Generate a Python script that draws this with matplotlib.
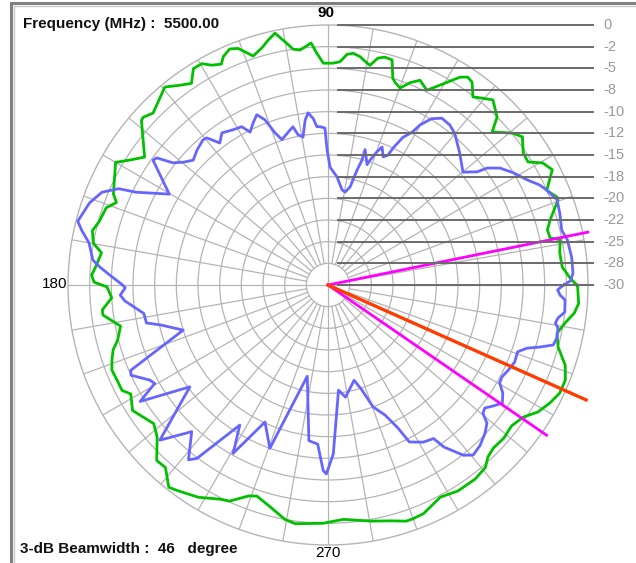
import numpy as np
import matplotlib
matplotlib.use("Agg")
import matplotlib.pyplot as plt
from matplotlib.patches import Rectangle

plt.rcParams['font.family'] = ['Liberation Sans', 'DejaVu Sans']

# measured pattern, angle in degrees / level in dB
green_deg = [0.0, 1.5, 4.4, 8.0, 11.0, 12.0, 14.1, 16.3, 20.3, 21.0, 23.4, 27.2, 29.6, 31.6,
             34.1, 37.3, 39.4, 43.0, 44.8, 48.3, 50.3, 52.4, 54.6, 56.1, 57.6, 59.6, 60.8,
             63.1, 65.8, 67.9, 69.9, 71.6, 72.6, 74.1, 76.0, 77.6, 79.2, 80.0, 82.0, 83.8,
             85.3, 86.9, 88.7, 91.2, 92.8, 94.0, 95.1, 96.8, 98.4, 99.7, 101.9, 103.7,
             105.6, 108.1, 109.3, 110.8, 112.6, 114.6, 115.8, 117.9, 119.7, 121.9, 124.1,
             126.2, 129.5, 135.5, 137.8, 138.6, 141.9, 145.1, 147.7, 150.0, 157.0, 158.7,
             160.8, 164.5, 167.0, 169.9, 171.9, 175.6, 177.6, 179.3, 180.5, 183.4, 186.3,
             187.6, 191.2, 194.7, 196.8, 199.2, 201.5, 204.3, 207.1, 208.9, 212.7, 218.5,
             221.7, 225.7, 228.3, 231.8, 233.8, 238.6, 243.1, 245.5, 249.4, 251.4, 255.6,
             259.6, 262.2, 268.8, 273.8, 280.4, 285.2, 288.3, 289.9, 292.6, 297.9, 302.3,
             307.2, 310.8, 312.9, 315.4, 319.0, 322.5, 325.9, 328.8, 332.0, 335.0, 338.2,
             341.3, 344.9, 348.1, 350.9, 353.5, 355.8, 359.6]
green_db = [-1.3, -2.0, -2.9, -3.0, -2.7, -3.8, -3.9, -3.3, -1.7, -1.7, -2.5, -0.9, -1.5, -2.9,
            -2.8, -1.8, -2.4, -4.1, -2.5, -1.4, -2.0, -2.6, -1.3, -1.1, -1.6, -2.9, -3.6,
            -4.8, -4.1, -4.8, -5.8, -5.4, -5.0, -3.0, -2.9, -3.2, -4.2, -4.0, -3.4, -3.1,
            -3.3, -4.2, -4.4, -4.4, -3.2, -2.0, -2.3, -2.7, -2.5, -1.7, -0.3, -0.9,
            -1.6, -2.2, -1.6, -0.8, -0.5, -1.0, -1.7, -1.3, -0.6, -0.6, -1.9,
            -1.4, -0.4, -1.7, -1.2, -1.3, -2.9, -4.2, -3.0, -1.7, -3.1, -3.8,
            -2.9, -2.6, -2.1, -2.5, -3.6, -3.1, -2.7, -3.0, -4.5, -5.0, -3.8,
            -3.8, -5.6, -4.9, -4.1, -3.6, -3.2, -3.3, -3.3, -4.0, -3.2, -4.3,
            -3.6, -1.7, -1.8, -0.3, -0.6, -1.3, -2.3, -2.6, -4.0, -4.3, -3.5,
            -2.5, -2.2, -2.5, -2.9, -2.3, -1.8, -1.3, -1.3, -1.4, -2.3, -1.9,
            -1.9, -2.2, -2.9, -3.2, -3.1, -3.3, -2.8, -1.7, -1.0, -0.5, -0.5,
            -1.1, -2.5, -3.0, -2.3, -1.4, -1.0, -1.2]

blue_deg = [0.0, 1.0, 2.8, 6.5, 10.7, 13.2, 17.2, 20.4, 23.5, 25.3, 27.8, 31.2, 34.2, 36.3,
            37.2, 39.9, 45.0, 50.1, 52.7, 55.7, 58.1, 60.1, 61.2, 63.1, 64.6, 65.2, 66.7,
            68.6, 69.8, 71.4, 72.0, 74.7, 74.8, 75.8, 77.3, 79.6, 81.6, 85.2, 89.0, 90.4,
            91.1, 92.9, 94.0, 95.1, 96.6, 97.9, 99.6, 101.3, 102.5, 104.7, 107.6, 109.2,
            110.9, 112.7, 114.8, 117.0, 118.6, 121.5, 124.9, 127.3, 129.5, 130.8, 134.1,
            137.2, 139.7, 141.8, 143.4, 144.5, 150.2, 154.2, 155.3, 157.7, 161.0, 165.7,
            167.5, 170.0, 173.9, 175.5, 177.4, 180.0, 180.8, 182.8, 184.5, 188.8, 191.8,
            193.5, 197.3, 203.4, 204.6, 208.1, 209.6, 211.8, 216.4, 222.7, 227.1, 231.4,
            232.9, 237.8, 240.6, 245.3, 250.4, 257.2, 263.0, 266.3, 268.5, 269.5, 271.8,
            275.7, 278.9, 285.3, 287.7, 290.3, 293.7, 296.0, 297.4, 301.2, 304.5, 305.6,
            308.5, 310.5, 311.4, 313.5, 316.7, 319.0, 320.4, 321.9, 323.7, 325.9, 328.3,
            330.3, 332.1, 334.7, 337.6, 340.6, 342.4, 343.7, 345.1, 347.0, 349.4, 350.5,
            351.8, 353.5, 356.4, 357.5, 358.8, 360.0]
blue_db = [-2.8, -2.0, -1.7, -1.7, -1.9, -2.3, -2.0, -1.8, -2.5, -3.0, -4.0, -5.0, -6.0, -7.2,
           -8.4, -9.7, -8.5, -7.2, -6.8, -6.7, -7.4, -8.7, -9.9, -10.9, -12.5, -13.5, -13.9,
           -12.9, -13.6, -14.8, -15.4, -13.8, -15.1, -16.3, -18.4, -19.1, -18.9, -17.5, -16.4, -14.4,
           -11.9, -11.7, -11.7, -10.7, -10.0, -10.8, -12.7, -12.3, -11.3, -11.8, -12.4, -11.4,
           -9.6, -8.7, -9.4, -10.2, -9.2, -9.0, -8.6, -9.4, -8.0, -7.9, -8.3,
           -8.8, -8.1, -7.2, -5.4, -5.2, -8.9, -5.4, -3.4, -1.8, -0.9, -0.2,
           -0.9, -2.0, -2.7, -3.6, -4.8, -6.3, -6.6, -6.0, -6.5, -8.5, -8.6,
           -10.2, -12.5, -5.2, -5.0, -6.7, -7.0, -4.5, -10.2, -3.6, -6.9, -4.2,
           -4.9, -10.9, -7.7, -12.6, -10.0, -19.2, -11.9, -11.6, -8.6, -8.2, -10.5,
           -17.8, -16.9, -18.6, -17.4, -15.0, -13.6, -11.7, -9.6, -8.8, -8.5, -7.0,
           -4.9, -4.2, -4.3, -4.5, -5.1, -5.7, -6.8, -7.0, -6.4, -5.7, -6.3,
           -7.2, -7.3, -7.0, -6.7, -6.8, -5.9, -4.5, -3.1, -2.9, -3.0, -3.4,
           -3.2, -2.5, -2.6, -3.2, -3.5, -2.8]

beam_edges_deg = [11.5, -34.5]   # -3 dB points
beam_axis_deg = -24.0
freq_mhz = 5500.00
beamwidth = 46

scale_labels = ['0', '-2', '-5', '-8', '-10', '-12', '-15', '-18', '-20', '-22', '-25', '-28', '-30']
ring_levels = np.arange(-27.5, 0, 2.5)

W, H = 636, 563
fig = plt.figure(figsize=(W / 100, H / 100), dpi=100)

# window frame
fig.add_artist(Rectangle((11 / W, -0.01), 1.02, (H - 3) / H + 0.01, transform=fig.transFigure,
                         fill=False, edgecolor='#808080', lw=2.2))
fig.add_artist(Rectangle((13.5 / W, -0.01), 1.02, (H - 5.5) / H + 0.01, transform=fig.transFigure,
                         fill=False, edgecolor='#c8c8c8', lw=1.0))

cx, cy, R = 328, 285, 260
rect = [(cx - R) / W, (H - cy - R) / H, 2 * R / W, 2 * R / H]
ax = fig.add_axes(rect, projection='polar')
ax.set_rlim(-30, 0)
ax.set_xticks([])
ax.set_yticks(ring_levels)
ax.set_yticklabels([])
ax.yaxis.grid(True, color='#b4b4b4', lw=0.9)
ax.xaxis.grid(False)
ax.spines['polar'].set_color('#b4b4b4')
ax.spines['polar'].set_linewidth(1.0)

for a in range(0, 360, 10):
    r0 = -30 if a % 90 == 0 else -27.5
    ax.plot([np.radians(a)] * 2, [r0, 0], color='#b4b4b4', lw=0.9, zorder=1)

th = np.radians(green_deg + [green_deg[0] + 360])
ax.plot(th, green_db + [green_db[0]], color='#00c000', lw=2.0, zorder=3)
ax.plot(np.radians(blue_deg), blue_db, color='#6666ff', lw=2.0, zorder=3)

for e in beam_edges_deg:
    ax.plot([np.radians(e)] * 2, [-30, 0.6], color='#ff00ff', lw=2.0, zorder=4, clip_on=False)
ax.plot([np.radians(beam_axis_deg)] * 2, [-30, 2.6], color='#ff3c00', lw=2.4, zorder=4, clip_on=False)

# dB scale on the right
ax2 = fig.add_axes(rect)
ax2.set_xlim(-1, 1)
ax2.set_ylim(-1, 1)
ax2.axis('off')
ax2.patch.set_alpha(0)
for k, lab in enumerate(scale_labels):
    yy = 1 - k / 12
    ax2.plot([0.04, 1.02], [yy, yy], color='#6a6a6a', lw=1.4, clip_on=False, zorder=2)
    ax2.text(1.058, yy, lab, color='#9a9a9a', fontsize=10.5, ha='left', va='center', clip_on=False)

fig.text(23 / W, 1 - 24 / H, 'Frequency (MHz) :  %.2f' % freq_mhz, fontsize=11,
         fontweight='bold', ha='left', va='center', color='#111111')
fig.text(20 / W, 1 - 549 / H, '3-dB Beamwidth :  %d   degree' % beamwidth, fontsize=11,
         fontweight='bold', ha='left', va='center', color='#111111')
fig.text(326 / W, 1 - 13 / H, '90', fontsize=11, fontweight='bold', ha='center', va='center')
fig.text(67 / W, 1 - 284 / H, '180', fontsize=11, ha='right', va='center')
fig.text(328 / W, 1 - 553 / H, '270', fontsize=11, ha='center', va='center')

fig.savefig('out.png', dpi=100, facecolor='white')
